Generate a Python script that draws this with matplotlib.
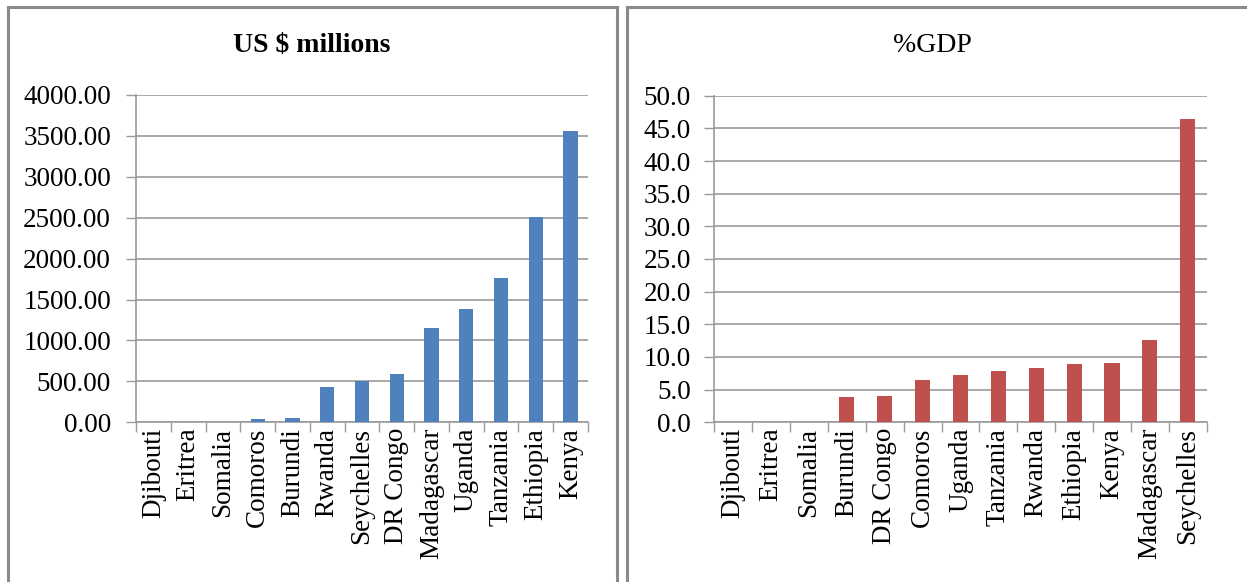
import matplotlib.pyplot as plt
import numpy as np
from matplotlib.patches import Rectangle
from matplotlib.ticker import MultipleLocator, FormatStrFormatter

plt.rcParams['font.family'] = ['Liberation Serif', 'DejaVu Serif']

# US $ millions (sorted ascending)
usd_countries = ['Djibouti', 'Eritrea', 'Somalia', 'Comoros', 'Burundi', 'Rwanda',
                 'Seychelles', 'DR Congo', 'Madagascar', 'Uganda', 'Tanzania',
                 'Ethiopia', 'Kenya']
usd_values = [0, 0, 0, 37, 53, 430, 500, 587, 1150, 1386, 1760, 2505, 3555]

# %GDP (sorted ascending)
gdp_countries = ['Djibouti', 'Eritrea', 'Somalia', 'Burundi', 'DR Congo', 'Comoros',
                 'Uganda', 'Tanzania', 'Rwanda', 'Ethiopia', 'Kenya', 'Madagascar',
                 'Seychelles']
gdp_values = [0, 0, 0, 3.8, 4.0, 6.5, 7.3, 7.9, 8.3, 8.9, 9.1, 12.6, 46.5]

W, H = 1247, 582
fig = plt.figure(figsize=(W / 100, H / 100), dpi=100)

# panel frames (pixel coords -> figure fraction)
def frame(x0, y0, x1, y1):
    fig.patches.append(Rectangle((x0 / W, 1 - y1 / H), (x1 - x0) / W, (y1 - y0) / H,
                                 transform=fig.transFigure, fill=False,
                                 edgecolor='#8a8a8a', linewidth=2.2, zorder=0))

frame(8, 7, 617, 600)
frame(627, 7, 1260, 600)

def make_axes(x0, x1, y0, y1):
    return fig.add_axes([x0 / W, 1 - y1 / H, (x1 - x0) / W, (y1 - y0) / H])

ax1 = make_axes(136, 588, 95, 422.3)
ax2 = make_axes(714.3, 1206.7, 95.7, 422.3)

fs = 19.5
grid_col = '#9a9a9a'

def style(ax, names, values, color, ymax, step, fmt, bw, ypad):
    x = np.arange(len(names))
    ax.bar(x, values, width=bw, color=color, zorder=3)
    ax.set_xlim(-0.5, len(names) - 0.5)
    ax.set_ylim(0, ymax)
    ax.yaxis.set_major_locator(MultipleLocator(step))
    ax.yaxis.set_major_formatter(FormatStrFormatter(fmt))
    ax.set_xticks(np.arange(len(names) + 1) - 0.5, minor=False)
    ax.set_xticklabels([])
    ax.set_xticks(x, minor=True)
    ax.set_xticklabels(names, minor=True, rotation=90, fontsize=fs)
    ax.tick_params(axis='x', which='major', length=7, color=grid_col, width=1)
    ax.tick_params(axis='x', which='minor', length=0, pad=4)
    ax.tick_params(axis='y', length=7, color=grid_col, width=1, labelsize=fs, pad=ypad)
    ax.grid(axis='y', color=grid_col, linewidth=1.2, zorder=0)
    for s in ['top', 'right']:
        ax.spines[s].set_visible(False)
    for s in ['left', 'bottom']:
        ax.spines[s].set_color(grid_col)
        ax.spines[s].set_linewidth(1.2)

style(ax1, usd_countries, usd_values, '#4F81BD', 4000, 500, '%.2f', 0.41, 11)
style(ax2, gdp_countries, gdp_values, '#C0504D', 50, 5, '%.1f', 0.40, 10)

fig.text(312 / W, 1 - 45 / H, 'US $ millions', ha='center', va='center',
         fontsize=20, fontweight='bold')
fig.text(932 / W, 1 - 45 / H, '%GDP', ha='center', va='center', fontsize=20)

fig.savefig('out.png', dpi=100)
